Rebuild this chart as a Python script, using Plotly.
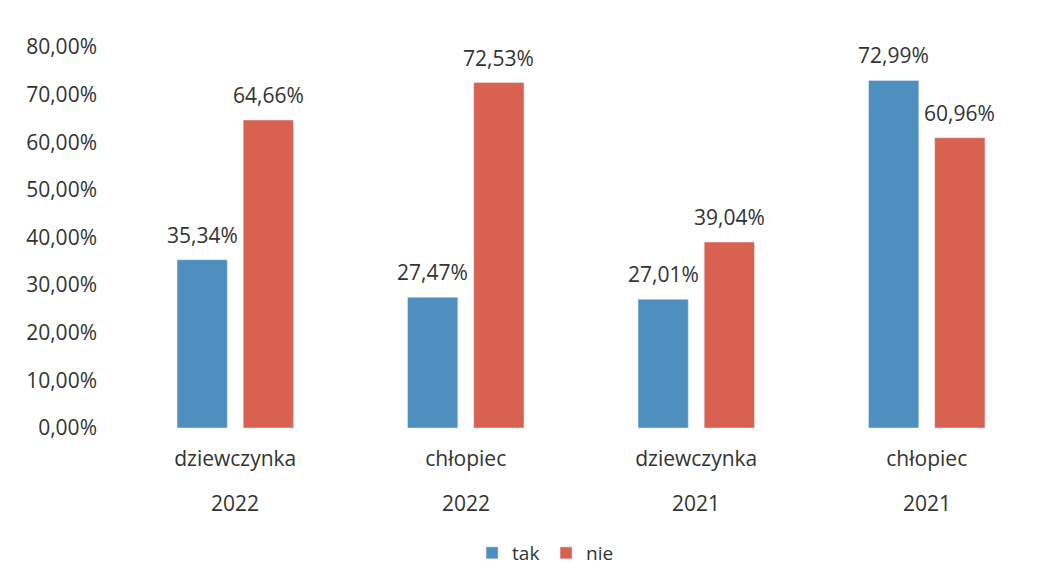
import plotly.graph_objects as go

genders = ["dziewczynka", "chłopiec", "dziewczynka", "chłopiec"]
years = ["2022", "2022", "2021", "2021"]
tak = [35.34, 27.47, 27.01, 72.99]
nie = [64.66, 72.53, 39.04, 60.96]
y_ticks = [0, 10, 20, 30, 40, 50, 60, 70, 80]

BLUE = "#4f8fbf"
RED = "#d9614f"
TXT = "#333333"
FONT = "Open Sans"
BARGAP = 0.426
BARGROUPGAP = 0.24

xs = list(range(len(genders)))


def fmt(v):
    return f"{v:.2f}".replace(".", ",") + "%"


fig = go.Figure()
fig.add_trace(go.Bar(name="tak", x=xs, y=tak, marker_color=BLUE))
fig.add_trace(go.Bar(name="nie", x=xs, y=nie, marker_color=RED))

annotations = []
off = (1 - BARGAP) / 4
for i in xs:
    for val, sgn in ((tak[i], -1), (nie[i], 1)):
        annotations.append(dict(
            x=i + sgn * off, y=val, xref="x", yref="y", text=fmt(val),
            showarrow=False, yanchor="middle", yshift=25,
            font=dict(family=FONT, size=21, color=TXT)))
    annotations.append(dict(
        x=i, y=0, xref="x", yref="y", text=years[i], showarrow=False,
        yanchor="middle", yshift=-75,
        font=dict(family=FONT, size=21, color=TXT)))

fig.update_layout(
    width=1055, height=579,
    margin=dict(l=112, r=21, t=39, b=159, autoexpand=False),
    paper_bgcolor="white", plot_bgcolor="white",
    barmode="group", bargap=BARGAP, bargroupgap=BARGROUPGAP,
    font=dict(family=FONT, size=21, color=TXT),
    showlegend=True,
    legend=dict(orientation="h", xref="container", yref="container",
                x=0.51, xanchor="center", y=0.0587, yanchor="middle",
                font=dict(family=FONT, size=19, color=TXT),
                itemwidth=30, entrywidth=29, tracegroupgap=0),
    annotations=annotations,
    xaxis=dict(tickmode="array", tickvals=xs, ticktext=genders,
               range=[-0.5, len(xs) - 0.5], showgrid=False, zeroline=False,
               showline=False, ticks="", ticklabelstandoff=16,
               automargin=False,
               tickfont=dict(family=FONT, size=21, color=TXT)),
    yaxis=dict(range=[0, 80], tickmode="array", tickvals=y_ticks,
               ticktext=[fmt(v) for v in y_ticks], showgrid=False,
               zeroline=False, showline=False, ticks="",
               ticklabelstandoff=22, automargin=False,
               tickfont=dict(family=FONT, size=21, color=TXT)),
)

fig.write_html("out.html")
